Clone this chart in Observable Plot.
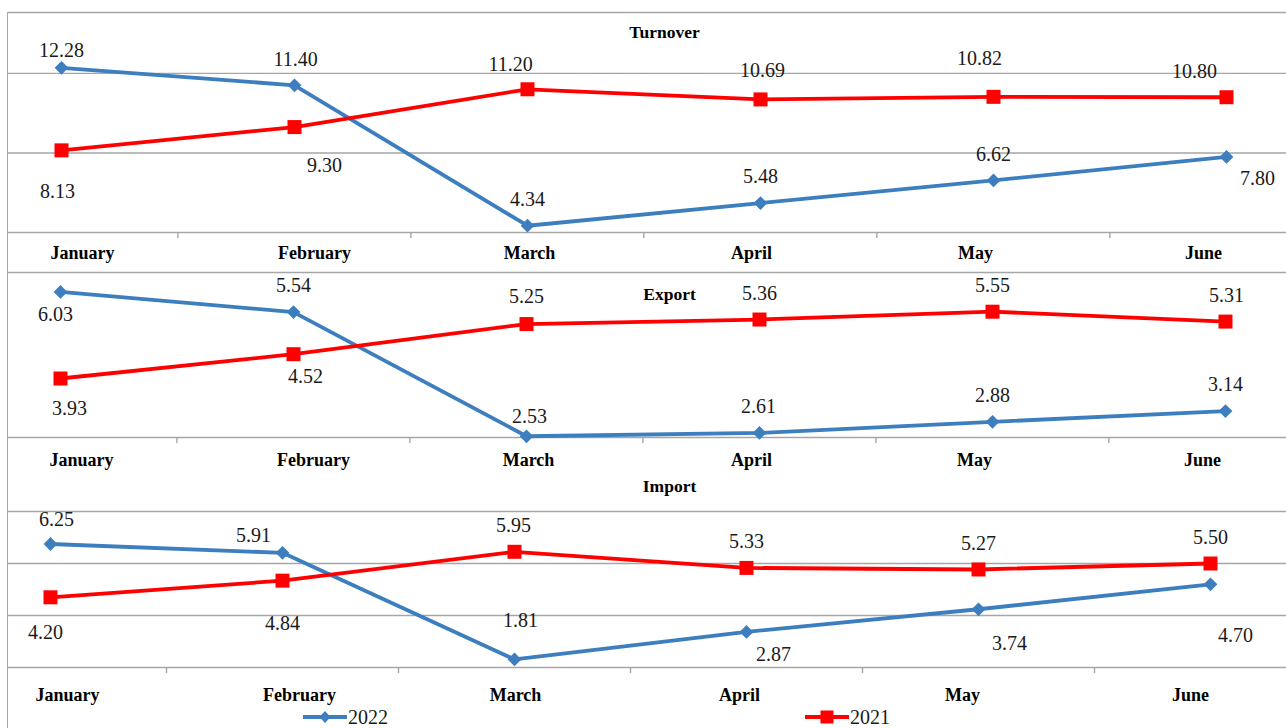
<!DOCTYPE html>
<html>
<head>
<meta charset="utf-8">
<script src="https://cdn.jsdelivr.net/npm/d3@7"></script>
<script src="https://cdn.jsdelivr.net/npm/@observablehq/plot@0.6"></script>
<style>
  body { margin: 0; background: #fff; }
  #chart { position: relative; width: 1286px; height: 728px; overflow: hidden; background: #fff;
           font-family: "Liberation Serif", "Times New Roman", serif; }
  #chart .panel { position: absolute; left: 0; }
  #chart .frame-left { position: absolute; left: 7px; top: 12px; height: 716px; border-left: 1.5px solid #a6a6a6; }
  #chart .legend-item { position: absolute; display: flex; align-items: center; font-size: 20px; color: #1a1a1a; }
</style>
</head>
<body>
<div id="chart"></div>
<script>
// ---------------- data ----------------
const months = ["January", "February", "March", "April", "May", "June"];
const seriesNames = ["2022", "2021"];
const panelTitles = ["Turnover", "Export", "Import"];

const turnover2022 = [12.28, 11.40, 4.34, 5.48, 6.62, 7.80];
const turnover2021 = [8.13, 9.30, 11.20, 10.69, 10.82, 10.80];
const export2022 = [6.03, 5.54, 2.53, 2.61, 2.88, 3.14];
const export2021 = [3.93, 4.52, 5.25, 5.36, 5.55, 5.31];
const import2022 = [6.25, 5.91, 1.81, 2.87, 3.74, 4.70];
const import2021 = [4.20, 4.84, 5.95, 5.33, 5.27, 5.50];

// ---------------- styles / layout ----------------
const colors = { "2022": "#3d7ebf", "2021": "#ff0000" };
const gridColor = "#a6a6a6";
const lineWidth = 3.8;
const fmt = d3.format(".2f");

// label offsets (pixels, relative to the point) as placed in the original
const labelOffsets = {
  Turnover: {
    "2022": [[0, -17], [1, -26], [0, -26], [0, -26], [0, -26], [31, 22]],
    "2021": [[-4, 41], [30, 39], [-17, -25], [2, -29], [-14, -38], [-32, -26]]
  },
  Export: {
    "2022": [[-5, 23], [0, -27], [3, -20], [-1, -26], [0, -26], [0, -27]],
    "2021": [[9, 30], [12, 22], [0, -27], [0, -26], [0, -26], [1, -26]]
  },
  Import: {
    "2022": [[6, -24], [-29, -17], [6, -39], [27, 23], [31, 34], [25, 51]],
    "2021": [[-5, 35], [0, 43], [-1, -26], [0, -26], [0, -26], [0, -26]]
  }
};

const panels = [
  { title: "Turnover", s22: turnover2022, s21: turnover2021,
    top: 0, height: 268, marginTop: 12, marginBottom: 36,
    yDomain: [4, 15.06], grid: [4, 8, 12, 15.06], xRange: [60, 1226.5],
    monthShift: [21, 20, 2, -9, -18, -23], monthDy: 21, titleDx: 17, titleDy: 20 },
  { title: "Export", s22: export2022, s21: export2021,
    top: 268, height: 200, marginTop: 4, marginBottom: 31,
    yDomain: [2.5, 6.5], grid: [2.5, 6.5], xRange: [59.5, 1225.5],
    monthShift: [21, 20, 2, -8, -18, -23], monthDy: 23, titleDx: 22, titleDy: 22 },
  { title: "Import", s22: import2022, s21: import2021,
    top: 468, height: 260, marginTop: 43, marginBottom: 61,
    yDomain: [1.5, 7.5], grid: [1.5, 3.5, 5.5, 7.5], xRange: [50, 1210],
    monthShift: [17, 17, 1, -7, -16, -20], monthDy: 28, titleDx: 22, titleDy: -25 }
];

const chart = document.getElementById("chart");

for (const p of panels) {
  const rows = (vals, s) => vals.map((v, i) => ({ month: months[i], value: v, series: s, i }));
  const r22 = rows(p.s22, "2022");
  const r21 = rows(p.s21, "2021");
  const step = (p.xRange[1] - p.xRange[0]) / (months.length - 1);
  const yMin = p.yDomain[0];

  const labelMarks = [];
  for (const [rs, s] of [[r22, "2022"], [r21, "2021"]]) {
    rs.forEach((d, i) => {
      const [dx, dy] = labelOffsets[p.title][s][i];
      labelMarks.push(Plot.text([d], {
        x: "month", y: "value", text: (d) => fmt(d.value),
        dx, dy, fontSize: 20, fill: "#1a1a1a", lineAnchor: "middle"
      }));
    });
  }

  const monthMarks = months.map((m, i) => Plot.text([m], {
    x: (d) => d, text: (d) => d, frameAnchor: "bottom", lineAnchor: "middle",
    dx: p.monthShift[i], dy: p.monthDy, fontSize: 18, fontWeight: "bold", fill: "#000"
  }));

  const svg = Plot.plot({
    width: 1286,
    height: p.height,
    marginLeft: 8,
    marginRight: 0,
    marginTop: p.marginTop,
    marginBottom: p.marginBottom,
    style: { background: "transparent", fontFamily: "Liberation Serif, Times New Roman, serif", overflow: "visible" },
    x: { type: "point", domain: months, range: p.xRange, padding: 0, axis: null },
    y: { domain: p.yDomain, axis: null },
    marks: [
      Plot.ruleY(p.grid, { stroke: gridColor, strokeWidth: 1.4 }),
      Plot.ruleX(months.slice(1), {
        x: (d) => d, y1: () => yMin, y2: () => yMin, insetBottom: -6,
        dx: -step / 2, stroke: gridColor, strokeWidth: 1.4
      }),
      Plot.text([p.title], {
        text: (d) => d, frameAnchor: "top", lineAnchor: "middle",
        dx: p.titleDx, dy: p.titleDy, fontSize: 17.5, fontWeight: "bold", fill: "#000"
      }),
      Plot.line(r22, { x: "month", y: "value", stroke: colors["2022"], strokeWidth: lineWidth }),
      Plot.dot(r22, { x: "month", y: "value", symbol: "diamond2", r: 6.2, fill: colors["2022"] }),
      Plot.line(r21, { x: "month", y: "value", stroke: colors["2021"], strokeWidth: lineWidth }),
      Plot.dot(r21, { x: "month", y: "value", symbol: "square", r: 7.9, fill: colors["2021"] }),
      ...labelMarks,
      ...monthMarks
    ]
  });
  const wrap = document.createElement("div");
  wrap.className = "panel";
  wrap.style.top = p.top + "px";
  wrap.appendChild(svg);
  chart.appendChild(wrap);
}

// left frame line
const fl = document.createElement("div");
fl.className = "frame-left";
chart.appendChild(fl);

// legend
const legendLeft = { "2022": 303, "2021": 805 };
for (const s of seriesNames) {
  const item = document.createElement("div");
  item.className = "legend-item";
  item.style.left = legendLeft[s] + "px";
  item.style.top = "706px";
  const marker = s === "2022"
    ? `<path d="M22,5 L27.5,11 L22,17 L16.5,11Z" fill="${colors[s]}"/>`
    : `<rect x="15.5" y="4.5" width="13" height="13" fill="${colors[s]}"/>`;
  item.innerHTML = `<svg width="44" height="22" style="display:block"><line x1="0" y1="11" x2="44" y2="11" stroke="${colors[s]}" stroke-width="${lineWidth}"/>${marker}</svg><span style="margin-left:1px;line-height:22px">${s}</span>`;
  chart.appendChild(item);
}
</script>
</body>
</html>
